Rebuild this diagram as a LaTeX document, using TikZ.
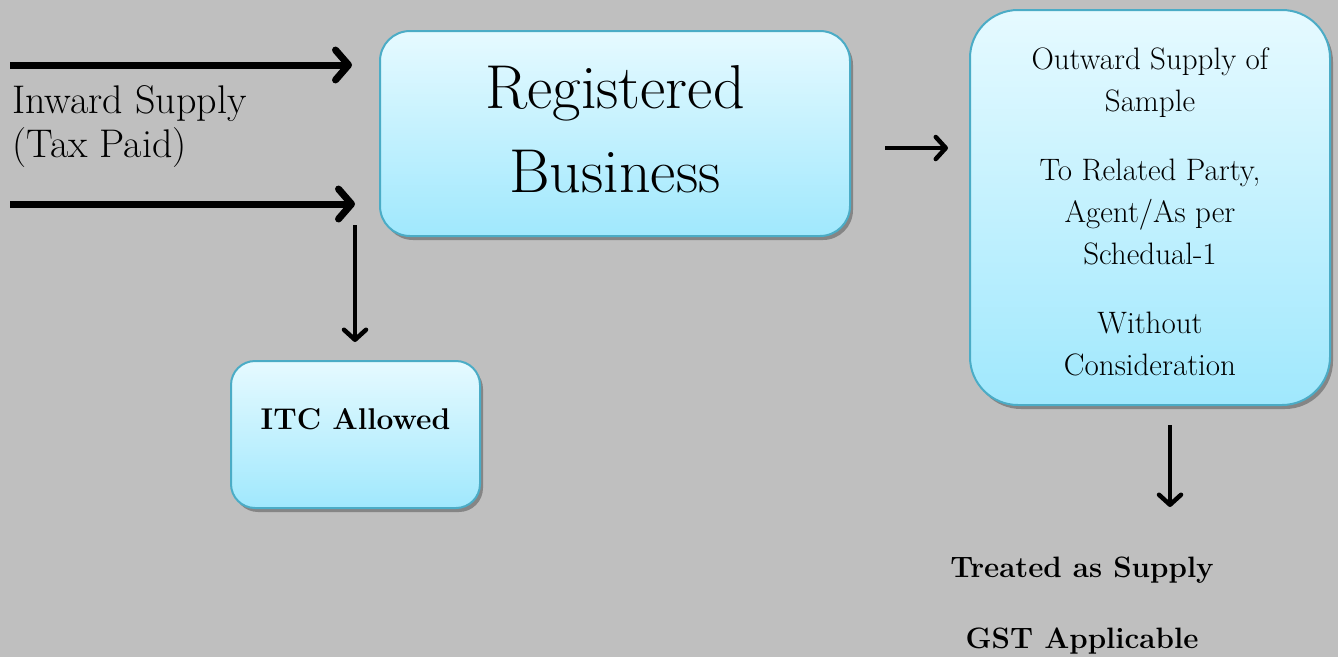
\documentclass[tikz,border=0pt]{standalone}
\usetikzlibrary{arrows.meta,shadows}
\definecolor{bg}{RGB}{191,191,191}
\definecolor{edge}{RGB}{75,172,198}
\definecolor{topc}{RGB}{230,250,255}
\definecolor{botc}{RGB}{160,232,253}
\begin{document}
\begin{tikzpicture}[x=1pt,y=-1pt,
  box/.style={draw=edge,line width=2pt,top color=topc,bottom color=botc,
    drop shadow={shadow xshift=3pt,shadow yshift=-4pt,fill=black,opacity=0.3},
    inner sep=0pt},
  bigarr/.style={line width=7pt,-{Straight Barb[length=13pt,width=30pt,round]}},
  smallarr/.style={line width=4.5pt,-{Straight Barb[length=10pt,width=22pt,round]}},
  txt/.style={inner sep=0pt,text=black}]
\fill[bg] (0,0) rectangle (1338,657);
\useasboundingbox (0,0) rectangle (1338,657);
% boxes
\node[box,rounded corners=30pt,minimum width=470pt,minimum height=205pt] (rb) at (615,133.5) {};
\node[box,rounded corners=48pt,minimum width=360pt,minimum height=395pt] (ob) at (1150,207.5) {};
\node[box,rounded corners=24pt,minimum width=249pt,minimum height=147pt] (itc) at (355.5,434.5) {};
% texts
\node[txt,anchor=base,align=center,font=\fontsize{62}{84}\selectfont] (rbt) at (615,192) {Registered\\Business};
\node[txt,anchor=base,align=center,font=\bfseries\fontsize{30}{36}\selectfont] (itct) at (355.5,429) {ITC Allowed};
\node[txt,anchor=base west,align=left,font=\fontsize{40}{44}\selectfont] (inw) at (12,157) {Inward Supply\\(Tax Paid)};
\node[txt,align=center,font=\fontsize{31}{42}\selectfont] (obt) at (1150,212) {Outward Supply of\\Sample\\[27pt]To Related Party,\\Agent/As per\\Schedual-1\\[27pt]Without\\Consideration};
\node[txt,anchor=base,font=\bfseries\fontsize{29.5}{35}\selectfont] (tas) at (1082,577) {Treated as Supply};
\node[txt,anchor=base,font=\bfseries\fontsize{29.5}{35}\selectfont] (gst) at (1082,648) {GST Applicable};
% arrow end points
\coordinate (a1s) at (10,65);
\coordinate (a1e) at (352,65);
\coordinate (a2s) at (10,204);
\coordinate (a2e) at (355,204);
\coordinate (d1s) at (355,225);
\coordinate (d1e) at (355,342);
\coordinate (h1s) at (885,148);
\coordinate (h1e) at (948,148);
\coordinate (d2s) at (1170,425);
\coordinate (d2e) at (1170,507);
\draw[bigarr] (a1s) -- (a1e);
\draw[bigarr] (a2s) -- (a2e);
\draw[smallarr] (d1s) -- (d1e);
\draw[smallarr] (h1s) -- (h1e);
\draw[smallarr] (d2s) -- (d2e);
\end{tikzpicture}
\end{document}
